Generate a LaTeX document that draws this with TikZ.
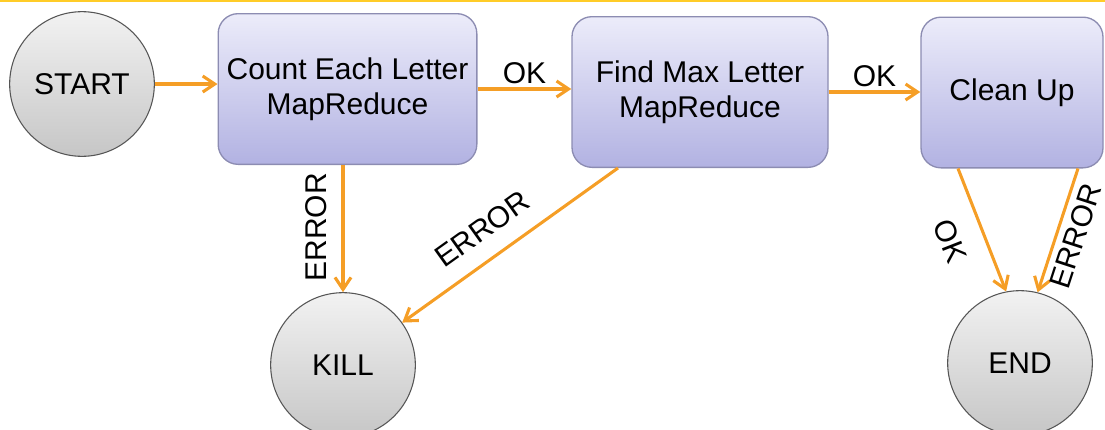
\documentclass[tikz,border=0pt]{standalone}
\usepackage{fontspec}
\setmainfont{Liberation Sans}
\usetikzlibrary{arrows.meta,calc}

\definecolor{okorange}{RGB}{245,158,38}
\definecolor{topline}{RGB}{255,204,40}
\definecolor{statetop}{RGB}{242,242,242}
\definecolor{statebot}{RGB}{198,198,198}
\definecolor{statebd}{RGB}{85,85,85}
\definecolor{jobtop}{RGB}{236,236,250}
\definecolor{jobbot}{RGB}{178,178,226}
\definecolor{jobbd}{RGB}{140,140,178}
\newcommand{\diagfont}{\fontsize{22.5}{26.5}\selectfont}

\begin{document}
\begin{tikzpicture}[x=0.75pt,y=-0.75pt,
	state/.style={circle, draw=statebd, line width=0.8pt, top color=statetop, bottom color=statebot, minimum size=108.5pt, inner sep=0pt, font=\diagfont},
	job/.style={rectangle, rounded corners=15pt, draw=jobbd, line width=1pt, top color=jobtop, bottom color=jobbot, align=center, minimum height=113pt, font=\diagfont},
	flow/.style={okorange, line width=2.3pt, -{Straight Barb[length=9pt,width=12pt]}},
	flowup/.style={okorange, line width=2.3pt, {Straight Barb[length=9pt,width=12pt]}-},
	tag/.style={font=\diagfont, text=black, inner sep=3pt}]
		\useasboundingbox (0,0) rectangle (1105,429);
		\draw [topline, line width=1.5pt] (0,1) -- (1105,1);
		% Draw states
		\node [state] (start) at (82,84) {START};
		\node [state] (kill) at (343,365) {KILL};
		\node [state] (end) at (1020,363) {END};
		% Draw jobs
		\node [job, minimum width=194pt] (count) at (347.5,89) {Count Each Letter\\MapReduce};
		\node [job, minimum width=192pt] (findmax) at (700,92) {Find Max Letter\\MapReduce};
		\node [job, minimum width=136.5pt] (cleanup) at (1012,92.5) {Clean Up};
		% Draw transitions
		\draw [flow] (start) -- (count.west |- start);
		\draw [flow] (count.east) -- (findmax.west |- count.east) node [midway, above, tag] {OK};
		\draw [flow] (findmax.east) -- (cleanup.west |- findmax.east) node [midway, above, tag] {OK};
		\draw [flowup] (kill) -- (kill |- count.south) node [pos=0.51, sloped, above=8pt, tag] {ERROR};
		\draw [flow] ($(findmax.south)+(-82,0)$) -- (kill) node [pos=0.55, sloped, above=10pt, tag] {ERROR};
		\draw [flow] ($(cleanup.south)+(-54,0)$) -- (end.101) node [pos=0.49, sloped, below=13pt, tag] {OK};
		\draw [flow] ($(cleanup.south)+(66,0)$) -- (end.76) node [pos=0.5, sloped, below=2pt, tag] {ERROR};
	\end{tikzpicture}
\end{document}
